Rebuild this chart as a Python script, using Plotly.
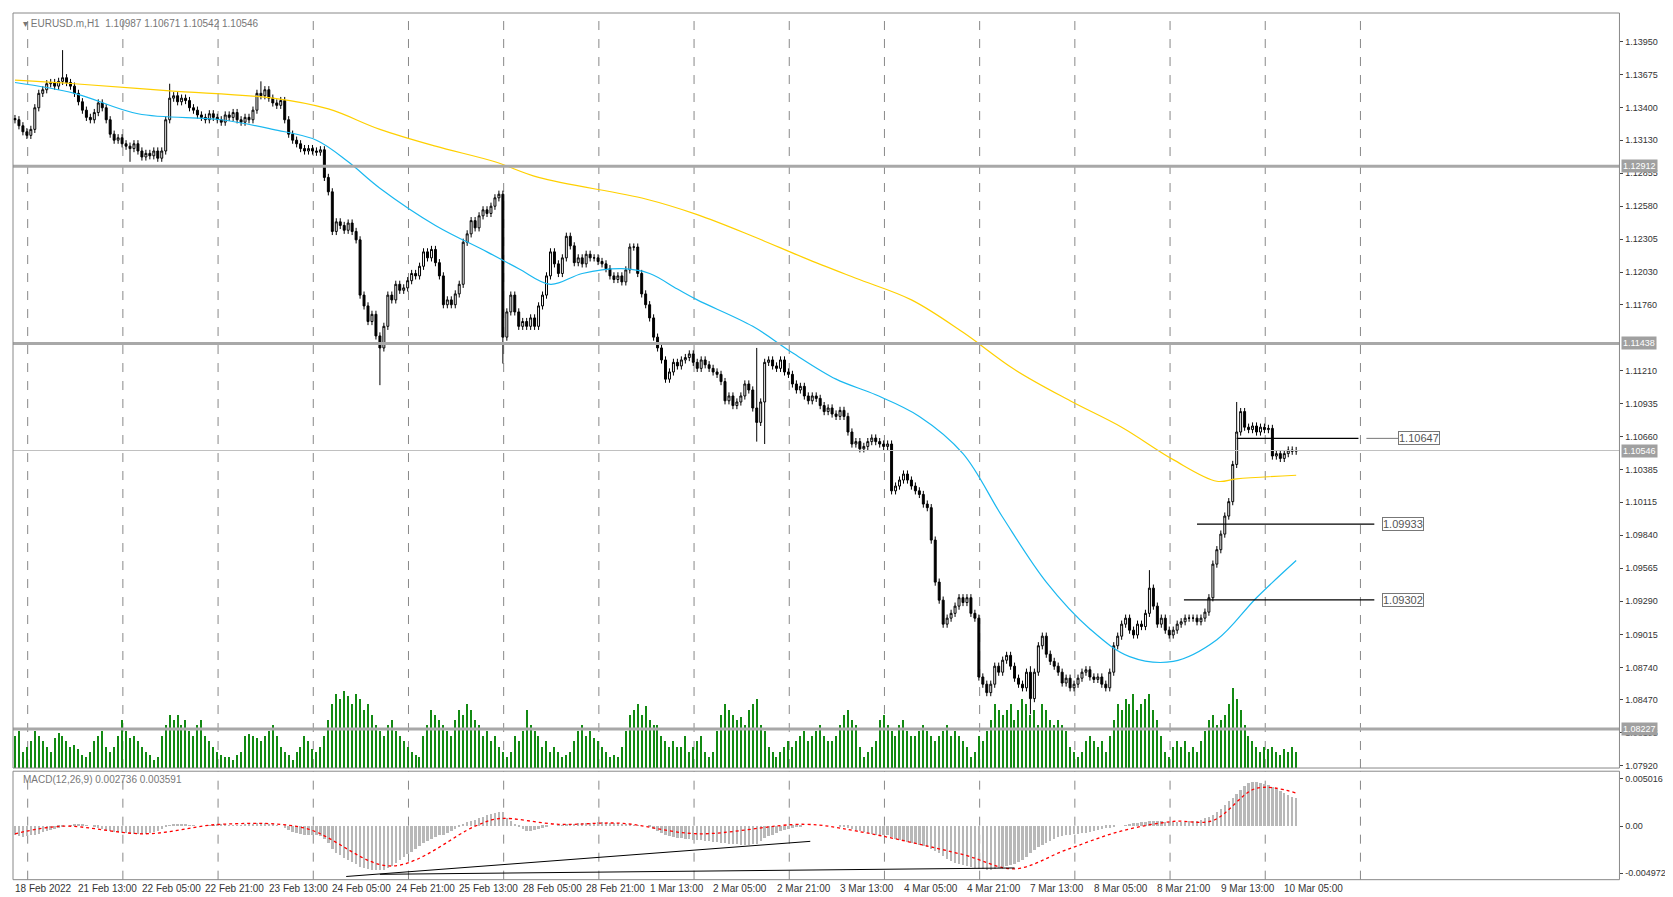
import plotly.graph_objects as go

# ---- data (prices in pips relative to 1.10000) ----
close_pips = [
330,325,320,317,322,340,352,355,360,361,358,362,365,361,358,352,345,338,332,330,336,344,340,330,
318,313,315,310,308,306,310,304,299,302,300,304,298,304,330,348,350,345,348,346,340,338,334,332,
330,335,332,330,328,334,332,336,330,328,332,330,338,352,350,355,348,344,342,346,330,318,313,310,
306,304,306,304,303,305,282,270,237,245,242,238,244,237,230,184,175,162,168,150,140,158,184,180,
193,188,190,196,202,200,208,220,215,222,211,200,176,180,176,185,193,228,235,246,240,250,255,252,
258,265,268,149,170,184,170,158,162,158,165,158,175,184,200,220,210,202,215,233,225,211,215,210,
218,215,215,212,210,206,200,197,200,195,205,224,224,202,185,176,165,149,140,130,114,120,128,125,
130,132,135,128,123,130,126,123,120,118,112,96,100,92,95,100,110,105,90,78,95,128,130,125,
123,130,120,118,110,105,108,100,96,100,98,92,87,90,85,83,88,83,70,60,62,56,58,62,
65,62,60,58,60,21,25,30,35,30,25,21,18,10,7,-20,-55,-70,-90,-85,-81,-75,-68,-72,
-68,-81,-85,-134,-140,-147,-140,-125,-130,-120,-116,-125,-135,-140,-143,-130,-152,-130,-108,-100,-115,-121,-125,-130,
-139,-135,-143,-140,-135,-130,-128,-134,-136,-134,-140,-143,-130,-108,-100,-90,-85,-95,-99,-90,-92,-81,-60,-75,
-90,-85,-95,-99,-95,-90,-88,-85,-85,-85,-88,-85,-80,-68,-40,-28,-15,0,12,43,70,87,74,72,
75,70,74,72,73,50,52,48,52,55,54,54.6]
open_first = 331
wick_pips = 3
spike_high = {12: 388, 39: 360, 62: 362, 123: 268, 187: 140, 256: -125, 286: -45, 308: 95}
spike_low = {29: 295, 92: 109, 123: 127, 187: 62, 256: -165, 189: 60}

volume = [
30,35,15,20,25,35,30,25,20,15,28,33,30,25,20,22,18,12,10,15,25,30,35,20,
15,20,30,45,35,28,30,25,20,15,12,8,10,30,40,50,45,50,40,45,35,30,40,45,
30,25,20,15,12,10,10,8,12,15,30,32,30,28,25,30,35,40,30,20,15,12,8,15,
20,30,25,18,15,20,30,45,60,70,65,72,68,60,70,65,55,60,50,40,35,30,40,45,
35,30,25,20,15,12,10,30,40,55,50,45,40,35,30,45,55,50,60,55,45,40,30,35,
25,30,20,15,10,15,30,25,35,55,40,35,30,20,25,15,20,15,10,12,15,25,35,40,
30,35,28,25,20,15,10,12,10,20,35,50,55,60,50,58,45,40,40,30,25,20,25,20,
20,30,15,20,25,30,15,10,15,35,50,60,55,50,45,48,40,55,60,65,40,35,20,15,
10,15,20,25,20,25,30,35,25,30,35,40,30,25,25,30,40,50,55,45,40,20,10,15,
20,25,45,50,40,35,30,40,45,35,30,30,35,40,35,30,25,30,35,40,30,35,30,25,
20,10,15,30,25,35,45,60,55,50,55,60,45,55,65,60,50,55,40,60,55,45,40,45,
40,35,20,15,10,15,25,30,25,20,25,15,30,45,60,55,65,60,70,55,60,65,70,55,
45,30,15,10,20,25,20,25,15,20,15,25,35,45,50,40,45,50,60,75,65,55,40,30,
25,20,15,20,18,20,15,12,18,15,20,15]

ma_slow_idx = [0,15,39,65,79,92,106,121,132,159,172,186,199,212,226,239,252,266,279,292,303,308,323]
ma_slow_pips = [363,360,354,348,339,322,308,295,282,264,251,233,215,198,180,153,122,96,74,47,29,31,34]
ma_fast_idx = [0,15,31,52,65,76,84,92,106,119,127,135,143,153,160,167,172,186,196,207,217,228,239,249,260,271,281,292,303,313,323]
ma_fast_pips = [361,352,335,330,322,313,295,273,242,220,206,193,202,206,202,189,180,158,136,114,101,83,52,-1,-55,-94,-117,-121,-103,-68,-37]

macd_hist = [
-10,-11,-12,-11,-10,-9,-8,-6,-5,-4,-3,-2,-1,0,1,2,2,2,1,0,-1,-2,-3,-4,
-5,-6,-6,-7,-7,-8,-8,-8,-8,-8,-7,-6,-5,-3,-1,1,2,2,2,2,1,1,0,0,
0,1,1,2,2,2,1,1,1,1,2,2,2,3,3,3,2,2,1,0,-2,-4,-6,-7,
-8,-9,-9,-10,-10,-11,-14,-18,-24,-28,-31,-34,-36,-38,-40,-43,-44,-45,-46,-46,-46,-46,-44,-42,
-39,-36,-33,-30,-27,-24,-21,-18,-16,-14,-12,-10,-9,-7,-5,-3,-1,2,4,5,6,8,10,12,
13,14,15,15,8,5,2,-1,-3,-5,-5,-4,-3,-2,-1,0,0,1,1,2,2,2,3,3,
3,3,3,4,4,3,3,3,3,2,2,2,1,1,0,0,-1,-3,-5,-7,-9,-11,-12,-13,
-13,-14,-14,-15,-15,-15,-16,-16,-17,-17,-18,-18,-19,-19,-19,-20,-20,-20,-19,-19,-16,-13,-11,-9,
-7,-5,-4,-3,-2,-1,-1,0,0,0,0,0,0,0,0,0,-1,-1,-2,-3,-4,-5,-6,-7,
-8,-9,-9,-10,-10,-12,-14,-15,-16,-17,-18,-19,-20,-21,-22,-24,-26,-29,-32,-35,-37,-39,-40,-41,
-42,-43,-44,-45,-45,-46,-46,-45,-44,-43,-42,-41,-40,-38,-36,-33,-29,-25,-22,-20,-18,-16,-14,-12,
-11,-10,-9,-8,-8,-7,-7,-6,-5,-4,-3,-2,-2,-1,0,0,1,2,3,3,4,4,5,5,
5,5,4,4,4,4,4,4,5,5,5,6,8,10,12,15,18,22,26,30,34,38,42,45,
46,46,45,44,43,41,39,37,35,33,31,30]
signal_idx = [0,12,33,52,73,95,116,122,137,153,172,199,212,239,252,265,279,292,302,313,323]
signal_vals = [-8,0,-8,2,-2,-42,0,8,2,3,-8,2,-5,-30,-45,-25,-5,5,6,40,35]

date_labels = ["18 Feb 2022","21 Feb 13:00","22 Feb 05:00","22 Feb 21:00","23 Feb 13:00","24 Feb 05:00",
"24 Feb 21:00","25 Feb 13:00","28 Feb 05:00","28 Feb 21:00","1 Mar 13:00","2 Mar 05:00","2 Mar 21:00",
"3 Mar 13:00","4 Mar 05:00","4 Mar 21:00","7 Mar 13:00","8 Mar 05:00","8 Mar 21:00","9 Mar 13:00","10 Mar 05:00"]
price_ticks = [1.13950,1.13675,1.13400,1.13130,1.12855,1.12580,1.12305,1.12030,1.11760,1.11210,1.10935,
1.10660,1.10385,1.10115,1.09840,1.09565,1.09290,1.09015,1.08740,1.08470,1.08195,1.07920]
levels_thick = [1.12912, 1.11438, 1.08227]
current_price = 1.10546
marked_levels = [(1.10647, 308, 338.7, 354), (1.09933, 298, 342.7, 350), (1.09302, 294.7, 342.7, 350)]

# ---- build ----
P = lambda p: 1.1 + p / 10000.0
n = len(close_pips)
idx = list(range(n))
closes = [P(c) for c in close_pips]
opens = [P(open_first)] + closes[:-1]
highs, lows = [], []
for i in idx:
    h = max(opens[i], closes[i]) + wick_pips / 10000
    l = min(opens[i], closes[i]) - wick_pips / 10000
    if i in spike_high: h = max(h, P(spike_high[i]))
    if i in spike_low: l = min(l, P(spike_low[i]))
    highs.append(h); lows.append(l)

FONT = "Liberation Sans"
fig = go.Figure()
fig.add_trace(go.Bar(x=list(range(len(volume))), y=volume, yaxis="y3", marker_color="#138a13",
                     width=0.3, marker_line_width=0, showlegend=False))
fig.add_trace(go.Candlestick(x=idx, open=opens, high=highs, low=lows, close=closes,
    increasing=dict(line=dict(color="black", width=1), fillcolor="white"),
    decreasing=dict(line=dict(color="black", width=1), fillcolor="black"),
    whiskerwidth=0, showlegend=False))
fig.add_trace(go.Scatter(x=ma_slow_idx, y=[P(v) for v in ma_slow_pips], mode="lines",
    line=dict(color="#ffd000", width=1.2, shape="spline"), showlegend=False))
fig.add_trace(go.Scatter(x=ma_fast_idx, y=[P(v) for v in ma_fast_pips], mode="lines",
    line=dict(color="#1ab8f0", width=1.2, shape="spline"), showlegend=False))
fig.add_trace(go.Bar(x=list(range(len(macd_hist))), y=[v / 10000 for v in macd_hist], yaxis="y2",
    marker_color="#b8b8b8", marker_line_width=0, width=0.6, showlegend=False))
fig.add_trace(go.Scatter(x=signal_idx, y=[v / 10000 for v in signal_vals], yaxis="y2", mode="lines",
    line=dict(color="red", width=1.3, dash="dot", shape="spline"), showlegend=False))

shapes = []
for k in range(15):
    xi = 3.2 + 24 * k
    for yr in ("y", "y2"):
        shapes.append(dict(type="line", xref="x", yref=yr + " domain", x0=xi, x1=xi, y0=0, y1=1,
                           line=dict(color="#888", width=1, dash="dash"), layer="below"))
for lv in levels_thick:
    shapes.append(dict(type="line", xref="x domain", yref="y", x0=0, x1=1, y0=lv, y1=lv,
                       line=dict(color="#a8a8a8", width=3)))
shapes.append(dict(type="line", xref="x domain", yref="y", x0=0, x1=1, y0=current_price, y1=current_price,
                   line=dict(color="#c0c0c0", width=1)))
ann = []
for lv, a, b, lab in marked_levels:
    shapes.append(dict(type="line", xref="x", yref="y", x0=a, x1=b, y0=lv, y1=lv, line=dict(color="black", width=1.2)))
    shapes.append(dict(type="line", xref="x", yref="y", x0=b + 2, x1=lab - 4.5, y0=lv, y1=lv, line=dict(color="#777", width=1)))
    ann.append(dict(x=lab, y=lv, xref="x", yref="y", text=f"{lv:.5f}", showarrow=False,
                    font=dict(family=FONT, size=11, color="#555"), bgcolor="white",
                    bordercolor="#777", borderwidth=1, borderpad=0))
shapes.append(dict(type="line", xref="x", yref="y2", x0=83.5, y0=-0.00531, x1=200.5, y1=-0.00160, line=dict(color="black", width=1)))
shapes.append(dict(type="line", xref="x", yref="y2", x0=92, y0=-0.00508, x1=252, y1=-0.00441, line=dict(color="black", width=1)))
for yr in ("y", "y2"):
    shapes.append(dict(type="rect", xref="x domain", yref=yr + " domain", x0=0, x1=1, y0=0, y1=1,
                       line=dict(color="#888", width=1)))

for lv in levels_thick + [current_price]:
    ann.append(dict(x=1, xref="x domain", y=lv, yref="y", text=f"{lv:.5f}", showarrow=False, xanchor="left",
                    xshift=2, font=dict(family=FONT, size=9, color="white"), bgcolor="#a0a0a0", borderpad=1))
for k, t in enumerate(date_labels):
    ann.append(dict(x=16 * k - 0.5, xref="x", y=0.0185, yref="paper", text=t, showarrow=False, xanchor="left",
                    yanchor="top", font=dict(family=FONT, size=10, color="#333")))
ann.append(dict(x=0.005, y=0.997, xref="paper", yref="paper", text="▾ EURUSD.m,H1  1.10987 1.10671 1.10542 1.10546",
                showarrow=False, xanchor="left", yanchor="top", font=dict(family=FONT, size=10, color="#777")))
ann.append(dict(x=0.005, y=0.141, xref="paper", yref="paper", text="MACD(12,26,9) 0.002736 0.003591",
                showarrow=False, xanchor="left", yanchor="top", font=dict(family=FONT, size=10, color="#777")))

fig.update_layout(
    width=1673, height=897, paper_bgcolor="white", plot_bgcolor="white",
    margin=dict(l=5, r=5, t=5, b=5), bargap=0, shapes=shapes, annotations=ann,
    font=dict(family=FONT, size=9, color="#333"),
    xaxis=dict(domain=[0, 0.966], range=[-0.5, 404.5], anchor="y2", showgrid=False, showticklabels=False,
               zeroline=False, rangeslider=dict(visible=False)),
    yaxis=dict(domain=[0.1459, 1.0], range=[1.07902, 1.14189], side="right", tickvals=price_ticks,
               ticktext=[f"{v:.5f}" for v in price_ticks], showgrid=False, zeroline=False, anchor="x",
               ticks="outside", ticklen=3, tickfont=dict(size=9)),
    yaxis3=dict(domain=[0.1459, 1.0], overlaying="y", range=[0, 710], visible=False),
    yaxis2=dict(domain=[0.0196, 0.1423], range=[-0.005645, 0.005802], side="right", anchor="x",
                tickvals=[0.005016, 0.0, -0.004972], ticktext=["0.005016", "0.00", "-0.004972"],
                showgrid=False, zeroline=False, ticks="outside", ticklen=3, tickfont=dict(size=9)),
)
fig.write_html("out.html")
